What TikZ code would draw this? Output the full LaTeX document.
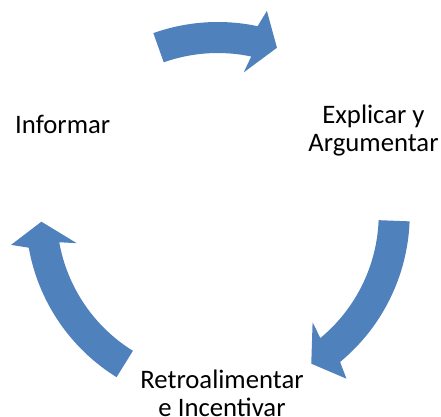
\documentclass[tikz,border=0pt]{standalone}
\usepackage{fontspec}
\setmainfont{Carlito}
\definecolor{arrowblue}{HTML}{4F81BD}
\tikzset{
    cyclearrow/.style={fill=arrowblue, draw=none},
    steplabel/.style={anchor=base, align=center, inner sep=0pt,
        font=\fontsize{15.2}{16}\selectfont}
}
\begin{document}
\begin{tikzpicture}[x=0.02cm, y=0.02cm]
            \useasboundingbox (0,0) rectangle (441,417);
            \coordinate (O) at (217.75,203);

            \node[steplabel] (inform) at ( 62.7,283.7) {Informar};
            \node[steplabel] (explain) at (373.5,265.3) {Explicar y\\Argumentar};
            \node[steplabel] (feedback) at (222,0.3) {Retroalimentar\\e Incentivar};

            \begin{scope}[shift={(O)}]
            \fill[cyclearrow] (109.6:192) arc[start angle=109.6, end angle=78, radius=192]
                -- (76.4:209) -- (70.4:176.5) -- (79.6:144) -- (78:161)
                arc[start angle=78, end angle=109.6, radius=161] -- cycle;
            \fill[cyclearrow] (-2.2:192) arc[start angle=-2.2, end angle=-50.4, radius=192]
                -- (-52:209) -- (-58:176.5) -- (-48.8:144) -- (-50.4:161)
                arc[start angle=-50.4, end angle=-2.2, radius=161] -- cycle;
            \fill[cyclearrow] (238.2:192) arc[start angle=238.2, end angle=190.1, radius=192]
                -- (188.5:209) -- (182.5:176.5) -- (191.7:144) -- (190.1:161)
                arc[start angle=190.1, end angle=238.2, radius=161] -- cycle;
            \end{scope}

        \end{tikzpicture}
\end{document}
